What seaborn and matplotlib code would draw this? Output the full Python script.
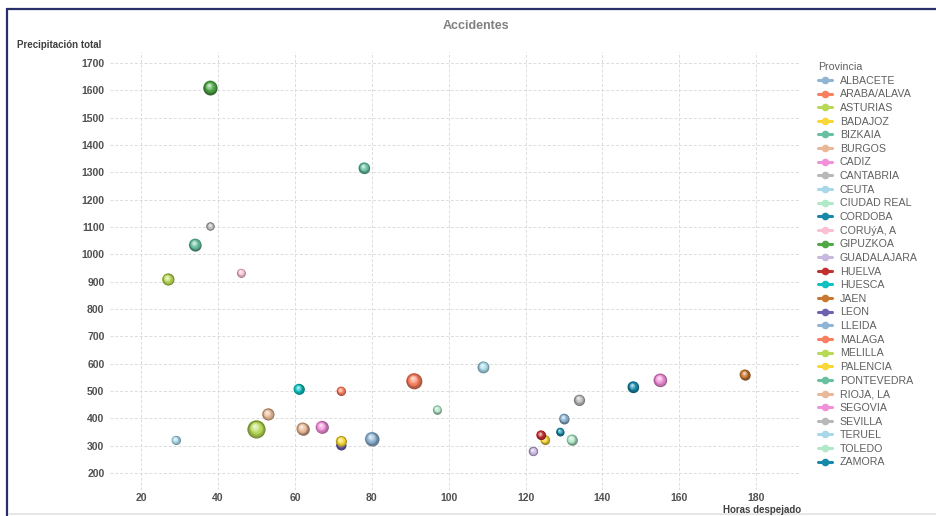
import numpy as np
import pandas as pd
import matplotlib
matplotlib.use("Agg")
import matplotlib.pyplot as plt
import matplotlib.colors as mcolors
from matplotlib.lines import Line2D
from matplotlib.transforms import offset_copy
import seaborn as sns

# ---- data -------------------------------------------------------------
provincias = ["ALBACETE", "ARABA/ALAVA", "ASTURIAS", "BADAJOZ", "BIZKAIA", "BURGOS",
              "CADIZ", "CANTABRIA", "CEUTA", "CIUDAD REAL", "CORDOBA", "CORUýA, A",
              "GIPUZKOA", "GUADALAJARA", "HUELVA", "HUESCA", "JAEN", "LEON",
              "LLEIDA", "MALAGA", "MELILLA", "PALENCIA", "PONTEVEDRA", "RIOJA, LA",
              "SEGOVIA", "SEVILLA", "TERUEL", "TOLEDO", "ZAMORA"]
horas_despejado = [130, 72, 27, 125, 34, 53, 155, 38, 109, 132, 148, 46,
                   38, 122, 124, 61, 177, 72, 80, 91, 50, 72, 78, 62,
                   67, 134, 29, 97, 129]
precipitacion = [399, 500, 908, 322, 1035, 415, 540, 1102, 587, 322, 515, 932,
                 1610, 279, 339, 507, 560, 303, 325, 537, 360, 316, 1316, 362,
                 368, 467, 320, 432, 351]
accidentes = [100, 81, 144, 86, 151, 144, 177, 69, 137, 114, 128, 76,
              196, 86, 86, 114, 106, 100, 196, 246, 324, 114, 128, 161,
              161, 121, 81, 76, 64]

base_colors = ["#90b4d4", "#f88060", "#b8d858", "#f8d838", "#68c0a0", "#e8b898",
               "#f090d8", "#b8b8b8", "#a8d8e8", "#b0e8c8", "#1888a8", "#f8c0d0",
               "#50a848", "#c8b8e0", "#c03030", "#10c0c0", "#c87830", "#7060b0"]
colores = [base_colors[i % len(base_colors)] for i in range(len(provincias))]

y_ticks = [200, 300, 400, 500, 600, 700, 800, 900, 1000, 1100, 1200, 1300,
           1400, 1500, 1600, 1700]
x_ticks = [20, 40, 60, 80, 100, 120, 140, 160, 180]

df = pd.DataFrame({"Provincia": provincias, "Horas despejado": horas_despejado,
                   "Precipitación total": precipitacion, "Accidentes": accidentes})

# ---- figure -----------------------------------------------------------
sns.set_theme(style="white")
plt.rcParams["font.family"] = ["Liberation Sans", "DejaVu Sans"]

W, H = 937, 516
fig = plt.figure(figsize=(W / 100, H / 100), dpi=100)
ax = fig.add_axes([110 / W, 1 - 490 / H, 690 / W, 438 / H])

palette = dict(zip(provincias, colores))
sns.scatterplot(data=df, x="Horas despejado", y="Precipitación total",
                hue="Provincia", hue_order=provincias, palette=palette,
                size="Accidentes", sizes=(0, 168), size_norm=(0, max(accidentes)),
                linewidth=0, legend=False, ax=ax, zorder=3)

# spherical shading on top of every bubble, drawn in order
pts = ax.collections[0]
sizes = np.broadcast_to(pts.get_sizes(), (len(df),))
for i, row in df.iterrows():
    s = sizes[i]
    r = np.sqrt(s) / 2.0
    base = np.array(mcolors.to_rgb(palette[row["Provincia"]]))
    dark = base * 0.62
    light = base + (1 - base) * 0.7
    n = 10
    for k in range(n):
        t = k / (n - 1)
        f = 1 - 0.82 * t
        if t < 0.45:
            c = dark + (base - dark) * (t / 0.45)
        else:
            c = base + (light - base) * ((t - 0.45) / 0.55)
        tr = offset_copy(ax.transData, fig=fig, x=-0.22 * r * t, y=0.36 * r * t,
                         units="points")
        ax.scatter([row["Horas despejado"]], [row["Precipitación total"]],
                   s=s * f * f, color=[c], linewidths=0, transform=tr,
                   zorder=4 + i * 0.01)

ax.set_xlim(11.9, 191.4)
ax.set_ylim(137.8, 1740)
ax.set_xticks(x_ticks)
ax.set_yticks(y_ticks)
ax.set_xlabel("")
ax.set_ylabel("")
for sp in ax.spines.values():
    sp.set_visible(False)
ax.grid(True, color="#dcdcdc", linestyle=(0, (3, 2)), linewidth=0.7)
ax.set_axisbelow(True)
ax.tick_params(length=0, labelsize=7.5, labelcolor="#505050")
ax.tick_params(axis="y", pad=4)
ax.tick_params(axis="x", pad=2)
for lab in ax.get_xticklabels() + ax.get_yticklabels():
    lab.set_fontweight("bold")

# ---- texts --------------------------------------------------------------
fig.text(476 / W, 1 - 26 / H, "Accidentes", ha="center", va="center",
         fontsize=9, fontweight="bold", color="#808080")
fig.text(17 / W, 1 - 45 / H, "Precipitación total", ha="left", va="center",
         fontsize=7, fontweight="bold", color="#404040")
fig.text(801 / W, 1 - 510 / H, "Horas despejado", ha="right", va="center",
         fontsize=7, fontweight="bold", color="#404040")

# ---- legend -------------------------------------------------------------
handles = [Line2D([0], [0], color=c, lw=2.2, marker="o", markersize=5.5,
                  markeredgewidth=0) for c in colores]
leg = ax.legend(handles, provincias, title="Provincia", loc="upper left",
                bbox_to_anchor=(818 / W, 1 - 62 / H),
                bbox_transform=fig.transFigure, frameon=False, fontsize=7.7,
                title_fontsize=7.7, labelspacing=0.34, handlelength=1.3,
                handletextpad=0.75, borderaxespad=0, borderpad=0,
                alignment="left")
for txt in leg.get_texts():
    txt.set_color("#606060")
leg.get_title().set_color("#606060")

# ---- frame --------------------------------------------------------------
fig.add_artist(Line2D([7.5 / W, 7.5 / W], [0, 1 - 8.5 / H], transform=fig.transFigure,
                      color="#27306a", lw=1.6))
fig.add_artist(Line2D([7.5 / W, 1], [1 - 8.5 / H, 1 - 8.5 / H], transform=fig.transFigure,
                      color="#27306a", lw=1.6))
fig.add_artist(Line2D([9 / W, 1], [1 - 513.5 / H, 1 - 513.5 / H], transform=fig.transFigure,
                      color="#e2e2e2", lw=1.2))

fig.savefig("out.png", dpi=100)
